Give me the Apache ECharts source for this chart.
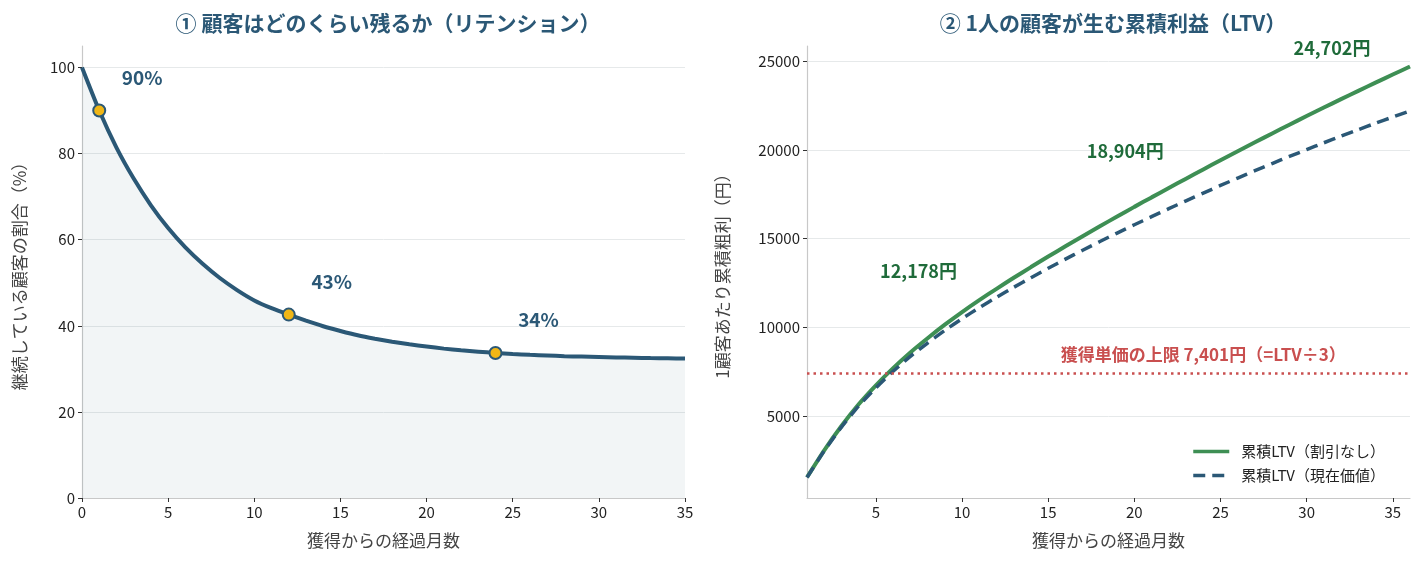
<!DOCTYPE html>
<html>
<head>
<meta charset="utf-8">
<script src="https://cdn.jsdelivr.net/npm/echarts@6/dist/echarts.min.js"></script>
<style>
html, body { margin: 0; padding: 0; background: #fff; }
#main { width: 1421px; height: 564px; }
</style>
</head>
<body>
<div id="main"></div>
<script>
// ① リテンション（経過月 0〜35、%）
var retMonths = [];
for (var i = 0; i <= 35; i++) retMonths.push(i);
var retention = [100, 90.0, 81.4, 74.2, 68.0, 62.7, 58.2, 54.4, 51.1, 48.3,
	45.9, 44.1, 42.6, 41.2, 39.9, 38.8, 37.8, 37.0, 36.3, 35.7,
	35.2, 34.7, 34.3, 34.0, 33.7, 33.45, 33.25, 33.1, 32.95, 32.85,
	32.75, 32.65, 32.6, 32.5, 32.45, 32.4];
var retMarkMonths = [1, 12, 24];

// ② 累積LTV（経過月 1〜36、円）
var ltvMonths = [];
for (var j = 1; j <= 36; j++) ltvMonths.push(j);
var ltvRaw = [1560, 3080, 4450, 5672, 6742, 7712, 8596, 9396, 10158, 10870,
	11540, 12178, 12798, 13403, 13995, 14575, 15144, 15703, 16253, 16795,
	17330, 17859, 18383, 18904, 19421, 19931, 20435, 20933, 21425, 21911,
	22391, 22865, 23333, 23795, 24251, 24702];
var ltvPv = [1549, 3046, 4386, 5573, 6603, 7531, 8370, 9124, 9837, 10497,
	11115, 11698, 12261, 12806, 13335, 13851, 14352, 14841, 15319, 15786,
	16244, 16693, 17135, 17571, 18001, 18421, 18834, 19238, 19635, 20025,
	20406, 20780, 21147, 21506, 21858, 22204];
var ltvMarkMonths = [12, 24, 36];

// 目盛り
var retYTicks = [0, 20, 40, 60, 80, 100];
var ltvXTicks = [5, 10, 15, 20, 25, 30, 35];
var ltvYTicks = [5000, 10000, 15000, 20000, 25000];

var navy = '#2b5876';
var green = '#3e8f54';
var darkGreen = '#1f6b3a';
var red = '#c94f4f';
var font = '"Noto Sans CJK JP", "Noto Sans", sans-serif';

// 獲得単価の上限 = 現在価値LTV ÷ 3
var capValue = Math.round(ltvPv[ltvPv.length - 1] / 3);

// 右グラフの縦軸範囲（データ幅の5%余白）
var allLtv = ltvRaw.concat(ltvPv);
var lo = Math.min.apply(null, allLtv), hi = Math.max.apply(null, allLtv);
var ltvMin = lo - (hi - lo) * 0.05, ltvMax = hi + (hi - lo) * 0.05;

function fmt(n) {
	return n.toString().replace(/\B(?=(\d{3})+(?!\d))/g, ',');
}

var axisCommon = {
	axisLine : { show : true, lineStyle : { color : '#c8c8c8', width : 1.2 } },
	axisTick : { show : true, length : 4, lineStyle : { color : '#333' } },
	axisLabel : { color : '#222', fontSize : 15, fontFamily : font, margin : 7,
		formatter : function(v) { return String(v); } },
	nameTextStyle : { color : '#444', fontSize : 17, fontFamily : font }
};

function ax(extra) {
	return echarts.util.merge(echarts.util.clone(axisCommon), extra, true);
}

var chart = echarts.init(document.getElementById('main'));

var option = {
	animation : false,
	textStyle : { fontFamily : font },
	title : [ {
		text : '① 顧客はどのくらい残るか（リテンション）',
		left : 383, top : 8, textAlign : 'center',
		textStyle : { color : navy, fontSize : 21, fontWeight : 'bold', fontFamily : font }
	}, {
		text : '② 1人の顧客が生む累積利益（LTV）',
		left : 1108, top : 8, textAlign : 'center',
		textStyle : { color : navy, fontSize : 21, fontWeight : 'bold', fontFamily : font }
	} ],
	grid : [
		{ left : 82, top : 46, width : 603, height : 452 },
		{ left : 807, top : 46, width : 603, height : 452 }
	],
	legend : {
		data : [ '累積LTV（割引なし）', '累積LTV（現在価値）' ],
		orient : 'vertical', right : 36, top : 444, padding : 0, itemGap : 9,
		itemWidth : 36, itemHeight : 14,
		itemStyle : { color : 'transparent', borderWidth : 0 },
		lineStyle : { width : 3.5 },
		textStyle : { color : '#222', fontSize : 15, fontFamily : font, padding : [ 0, 0, 0, 7 ] }
	},
	xAxis : [
		ax({
			gridIndex : 0, type : 'value', min : 0, max : 35, interval : 5,
			splitLine : { show : false },
			name : '獲得からの経過月数', nameLocation : 'middle', nameGap : 34
		}),
		ax({
			gridIndex : 1, type : 'value', min : 1, max : 36,
			axisTick : { customValues : ltvXTicks },
			axisLabel : { customValues : ltvXTicks },
			splitLine : { show : false },
			name : '獲得からの経過月数', nameLocation : 'middle', nameGap : 34
		})
	],
	yAxis : [
		ax({
			gridIndex : 0, type : 'value', min : 0, max : 105,
			axisTick : { customValues : retYTicks },
			axisLabel : { customValues : retYTicks },
			splitLine : { show : true, lineStyle : { color : '#e6e9ea', width : 1 } },
			name : '継続している顧客の割合（%）', nameLocation : 'middle', nameGap : 54
		}),
		ax({
			gridIndex : 1, type : 'value', min : ltvMin, max : ltvMax,
			axisTick : { customValues : ltvYTicks },
			axisLabel : { customValues : ltvYTicks },
			splitLine : { show : true, lineStyle : { color : '#e6e9ea', width : 1 } },
			name : '1顧客あたり累積粗利（円）', nameLocation : 'middle', nameGap : 76
		})
	],
	series : [ {
		// 左：リテンション曲線
		type : 'line', xAxisIndex : 0, yAxisIndex : 0,
		data : retMonths.map(function(m, i) { return [ m, retention[i] ]; }),
		smooth : 0.2, showSymbol : false, symbol : 'none',
		lineStyle : { color : navy, width : 4 },
		areaStyle : { color : 'rgba(43,88,118,0.09)' },
		z : 2
	}, {
		// 左：注目月のマーカー
		type : 'scatter', xAxisIndex : 0, yAxisIndex : 0,
		data : retMarkMonths.map(function(m) { return [ m, retention[m] ]; }),
		symbolSize : 12,
		itemStyle : { color : '#f0b616', borderColor : navy, borderWidth : 2, opacity : 1 },
		label : {
			show : true, position : 'inside', offset : [ 43, -33 ],
			color : navy, fontSize : 19, fontWeight : 'bold', fontFamily : font,
			formatter : function(p) { return Math.round(p.value[1]) + '%'; }
		},
		z : 5
	}, {
		name : '累積LTV（割引なし）',
		type : 'line', xAxisIndex : 1, yAxisIndex : 1,
		data : ltvMonths.map(function(m, i) { return [ m, ltvRaw[i] ]; }),
		smooth : 0.2, showSymbol : false, symbol : 'none',
		lineStyle : { color : green, width : 4 },
		itemStyle : { color : green },
		z : 3
	}, {
		name : '累積LTV（現在価値）',
		type : 'line', xAxisIndex : 1, yAxisIndex : 1,
		data : ltvMonths.map(function(m, i) { return [ m, ltvPv[i] ]; }),
		smooth : 0.2, showSymbol : false, symbol : 'none',
		lineStyle : { color : navy, width : 3.5, type : [ 12, 7 ] },
		itemStyle : { color : navy },
		markLine : {
			silent : true, symbol : 'none',
			label : { show : false },
			lineStyle : { color : red, width : 2.5, type : [ 2.5, 4 ] },
			data : [ { yAxis : capValue } ]
		},
		z : 4
	}, {
		// 右：累積LTVの値ラベル
		type : 'scatter', xAxisIndex : 1, yAxisIndex : 1,
		data : ltvMarkMonths.map(function(m) { return [ m, ltvRaw[m - 1] ]; }),
		symbolSize : 0, silent : true,
		itemStyle : { opacity : 1 },
		label : {
			show : true, position : 'inside', offset : [ -78, -18 ],
			color : darkGreen, fontSize : 18, fontWeight : 'bold', fontFamily : font,
			formatter : function(p) { return fmt(p.value[1]) + '円'; }
		}
	}, {
		// 右：獲得単価の上限ラベル
		type : 'scatter', xAxisIndex : 1, yAxisIndex : 1,
		data : [ [ 24, capValue ] ],
		symbolSize : 0, silent : true,
		itemStyle : { opacity : 1 },
		label : {
			show : true, position : 'inside', offset : [ 0, -19 ],
			color : red, fontSize : 17, fontWeight : 'bold', fontFamily : font,
			formatter : function(p) { return '獲得単価の上限 ' + fmt(p.value[1]) + '円（=LTV÷3）'; }
		}
	} ]
};

chart.setOption(option);
</script>
</body>
</html>
